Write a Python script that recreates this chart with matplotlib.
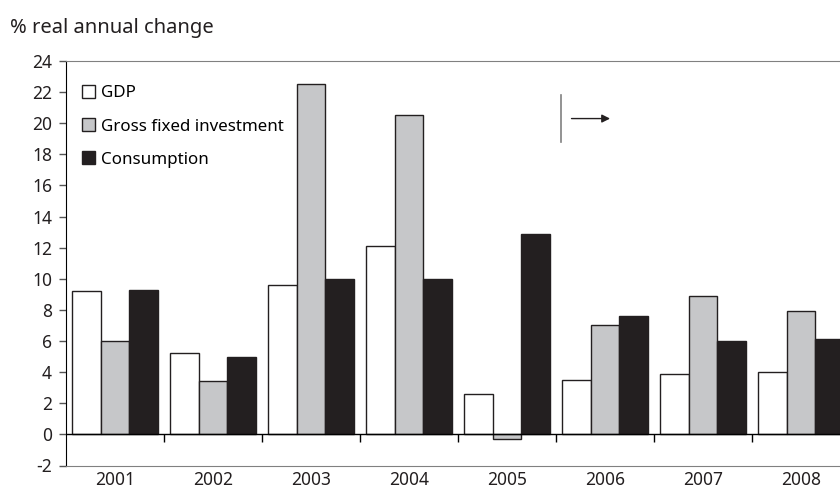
import numpy as np
import matplotlib
matplotlib.use('Agg')
import matplotlib.pyplot as plt

years = ['2001', '2002', '2003', '2004', '2005', '2006', '2007', '2008']
gdp = [9.2, 5.2, 9.6, 12.1, 2.6, 3.5, 3.9, 4.0]
investment = [6.0, 3.4, 22.5, 20.5, -0.3, 7.0, 8.9, 7.9]
consumption = [9.3, 5.0, 10.0, 10.0, 12.9, 7.6, 6.0, 6.1]

plt.rcParams['font.family'] = ['Noto Sans', 'DejaVu Sans']
plt.rcParams['axes.unicode_minus'] = False

fig = plt.figure(figsize=(8.4, 4.93), dpi=100)
ax = fig.add_axes([66 / 840, 27.5 / 493, 784 / 840, 404.5 / 493])

x = np.arange(len(years))
w = 0.29
ax.bar(x - w, gdp, w, color='white', edgecolor='#231f20', linewidth=1.0,
       label='GDP')
ax.bar(x, investment, w, color='#c6c7c9', edgecolor='#231f20', linewidth=1.0,
       label='Gross fixed investment')
ax.bar(x + w, consumption, w, color='#231f20', edgecolor='#231f20',
       linewidth=1.0, label='Consumption')

ax.set_xlim(-0.5, len(years) - 0.5)
ax.set_ylim(-2, 24)
ax.set_yticks(range(-2, 25, 2))
ax.set_xticks(x, years)
ax.tick_params(axis='x', length=0, pad=4, labelsize=12.5, labelcolor='#231f20')
ax.tick_params(axis='y', length=5, width=1, color='#555555', labelsize=12.5,
               pad=5, labelcolor='#231f20')

# zero line with category separators
ax.axhline(0, color='black', linewidth=1.0)
ax.plot(x[:-1] + 0.5, np.zeros(len(years) - 1), linestyle='none',
        marker=3, markersize=6, markeredgewidth=1.0, color='black')

ax.spines['left'].set_color('black')
ax.spines['top'].set_color('#808080')
ax.spines['bottom'].set_color('#808080')
ax.spines['right'].set_visible(False)

ax.legend(loc='upper left', bbox_to_anchor=(-0.005, 0.99), frameon=False,
          fontsize=12.2, handlelength=0.75, handleheight=0.75,
          handletextpad=0.35, labelspacing=1.0, borderaxespad=0.8)

# arrow marker
ax.plot([4.55, 4.55], [18.8, 21.8], color='#808080', linewidth=1.2)
ax.annotate('', xy=(5.08, 20.3), xytext=(4.63, 20.3),
            arrowprops=dict(arrowstyle='-|>', color='#231f20', lw=1.0,
                            mutation_scale=12))

fig.text(10 / 840, 1 - 28 / 493, '% real annual change', fontsize=14.5,
         va='center', ha='left', color='#231f20')

fig.savefig('out.png', dpi=100)
